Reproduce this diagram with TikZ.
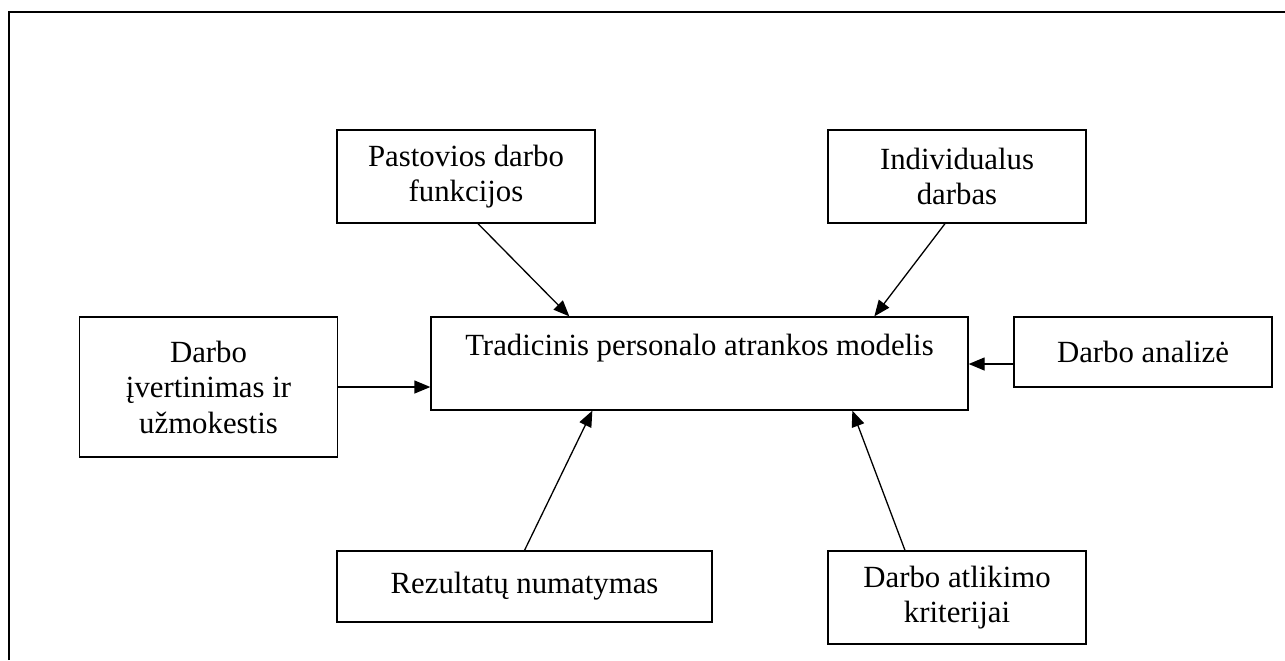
\documentclass[tikz,border=0pt]{standalone}
\usepackage{fontspec}
\setmainfont{Liberation Serif}
\usetikzlibrary{arrows.meta,calc}
\begin{document}
\begin{tikzpicture}[x=0.5pt,y=-0.5pt,
  box/.style={draw,line width=0.65pt,inner sep=0pt,align=center,
    minimum width=129pt,
    font=\fontsize{15.4pt}{17.75pt}\selectfont},
  link/.style={line width=0.65pt,-{Triangle[length=8pt,width=6.5pt]}}]
\useasboundingbox (0,0) rectangle (1285,660);
% outer frame (top and left edges only)
\draw[line width=1pt] (9,660) -- (9,12) -- (1285,12);

\node[box,minimum height=93*0.5pt] (pf) at (466,176.5)
  {Pastovios darbo\\funkcijos};
\node[box,minimum height=93*0.5pt] (ind) at (957,176.5)
  {Individualus\\darbas};
\node[box,minimum height=140*0.5pt] (iv) at (208.5,387)
  {Darbo\\įvertinimas ir\\užmokestis};
\node[box,minimum width=537*0.5pt,minimum height=93*0.5pt] (c) at (699.5,363.5)
  {Tradicinis personalo atrankos modelis\\[-4pt]\strut};
\node[box,minimum height=70*0.5pt] (an) at (1143,352)
  {Darbo analizė};
\node[box,minimum width=375*0.5pt,minimum height=71*0.5pt] (rez) at (524.5,586.5)
  {Rezultatų numatymas};
\node[box,minimum height=93*0.5pt] (kr) at (957,597.5)
  {Darbo atlikimo\\kriterijai};

\draw[link] ($(pf.south)+(12,0)$) -- ($(c.north west)+(139,0)$);
\draw[link] ($(ind.south)+(-12,0)$) -- ($(c.north west)+(444,0)$);
\draw[link] (iv.east) -- ($(c.west)+(0,23.5)$);
\draw[link] ($(an.west)+(0,12)$) -- ($(c.east)+(0,0.5)$);
\draw[link] (rez.north) -- ($(c.south west)+(162,0)$);
\draw[link] ($(kr.north)+(-52,0)$) -- ($(c.south west)+(422,0)$);
\end{tikzpicture}
\end{document}
